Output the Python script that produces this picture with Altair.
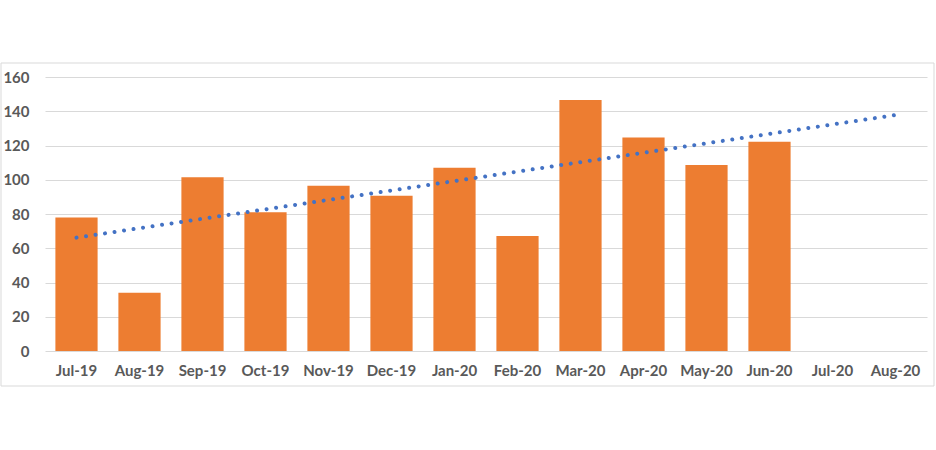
import altair as alt
import pandas as pd

months = ["Jul-19", "Aug-19", "Sep-19", "Oct-19", "Nov-19", "Dec-19", "Jan-20",
          "Feb-20", "Mar-20", "Apr-20", "May-20", "Jun-20", "Jul-20", "Aug-20"]
values = [78, 34, 101.5, 81, 96.5, 90.7, 107, 67.2, 146.6, 124.6, 108.6, 122.2, None, None]

trend_months = ["Jul-19", "Aug-20"]
trend_values = [66.2, 137.8]

bars_df = pd.DataFrame({"month": months, "value": values})
trend_df = pd.DataFrame({"month": trend_months, "trend": trend_values})

FONT = "Lato"
GRAY = "#595959"

x_scale = alt.Scale(domain=months, paddingInner=0.33, paddingOuter=0.165)
x_axis = alt.Axis(labelAngle=0, labelFont=FONT, labelFontSize=15, labelFontWeight="bold",
                  labelColor=GRAY, ticks=False, tickSize=0, domain=False, grid=False,
                  labelPadding=12)
y_scale = alt.Scale(domain=[0, 160], nice=False)
y_axis = alt.Axis(values=[0, 20, 40, 60, 80, 100, 120, 140, 160], labelFont=FONT,
                  labelFontSize=15, labelFontWeight="bold", labelColor=GRAY,
                  ticks=False, tickSize=0, domain=False, gridColor="#D9D9D9",
                  gridWidth=1, labelPadding=16, labelOverlap=False)

bars = alt.Chart(bars_df).mark_bar(color="#ED7D31").encode(
    x=alt.X("month:N", sort=months, title=None, scale=x_scale, axis=x_axis),
    y=alt.Y("value:Q", scale=y_scale, axis=y_axis, title=None),
)

trend = alt.Chart(trend_df).mark_line(
    color="#4472C4", strokeWidth=4, strokeCap="round", strokeDash=[0.01, 9.6]
).encode(
    x=alt.X("month:N", sort=months, title=None, scale=x_scale, axis=x_axis),
    y=alt.Y("trend:Q", scale=y_scale, axis=y_axis, title=None),
)

frame = alt.Chart(pd.DataFrame({"a": [0]})).mark_rect(
    fill=None, stroke="#D9D9D9", strokeWidth=1
).encode(
    x=alt.value(-44), x2=alt.value(889), y=alt.value(-14), y2=alt.value(35 + 274)
)

chart = alt.layer(frame, bars, trend).properties(
    width=882, height=274,
    autosize=alt.AutoSizeParams(type="none"),
    padding={"left": 45, "top": 77, "right": 9, "bottom": 99},
    background="white",
).configure_view(stroke=None)

chart.save("out.html", embed_options={"renderer": "svg", "actions": False})
